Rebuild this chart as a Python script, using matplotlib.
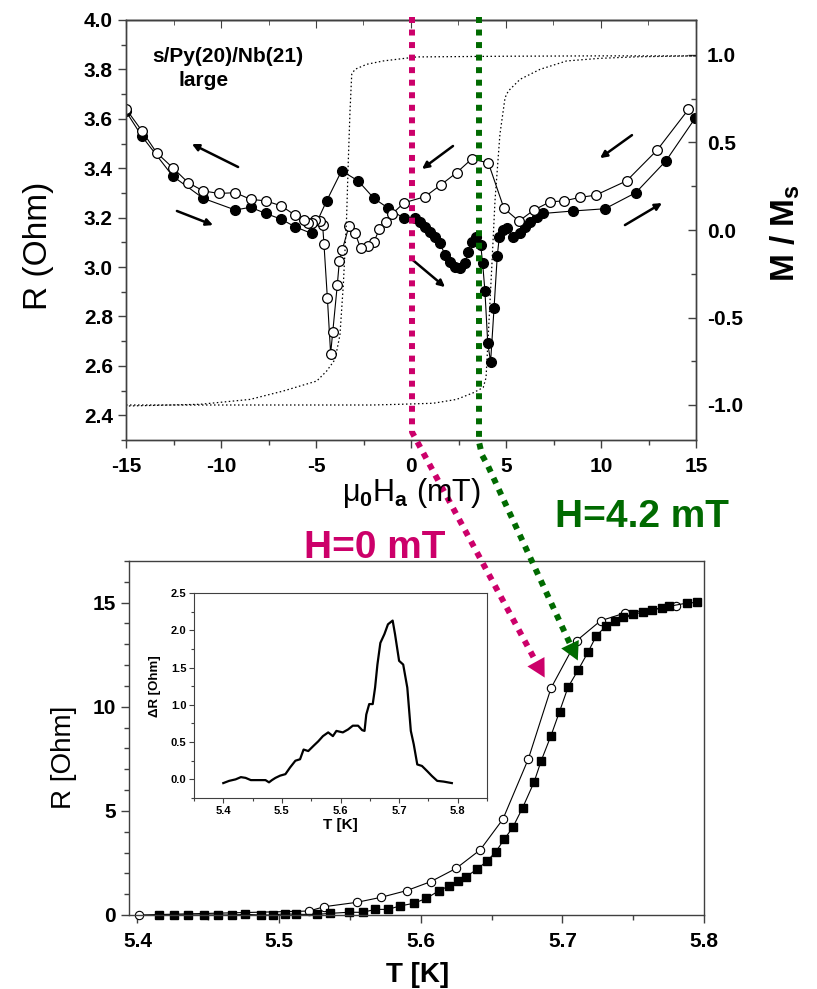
import matplotlib.pyplot as plt
from matplotlib.lines import Line2D
from matplotlib.patches import FancyArrowPatch
from matplotlib.ticker import MultipleLocator

plt.rcParams["font.family"] = ["Liberation Sans", "DejaVu Sans"]
plt.rcParams["font.weight"] = "bold"
plt.rcParams["mathtext.fontset"] = "custom"
plt.rcParams["mathtext.rm"] = "Liberation Sans"
plt.rcParams["mathtext.it"] = "Liberation Sans"
plt.rcParams["mathtext.bf"] = "Liberation Sans:bold"
plt.rcParams["axes.unicode_minus"] = False
plt.rcParams["axes.edgecolor"] = "#404040"
plt.rcParams["axes.linewidth"] = 1.0

# --- top panel: R(H) loops, filled = sweep up, open = sweep down
h_up = [-15.0, -14.17, -12.54, -10.93, -9.25, -8.44, -7.65, -6.84, -6.1, -5.23,
        -4.44, -3.65, -2.77, -1.95, -1.19, -0.37, 0.2, 0.47, 0.74, 1.0, 1.26,
        1.53, 1.79, 2.05, 2.32, 2.58, 2.84, 3.02, 3.19, 3.42, 3.67, 3.77, 3.89,
        4.04, 4.19, 4.37, 4.54, 4.65, 4.86, 5.04, 5.39, 5.74, 6.0, 6.26, 6.61,
        6.96, 8.54, 10.21, 11.83, 13.42, 14.95]
r_up = [3.63, 3.53, 3.368, 3.278, 3.231, 3.242, 3.217, 3.194, 3.163, 3.136,
        3.268, 3.39, 3.348, 3.278, 3.238, 3.197, 3.2, 3.183, 3.163, 3.143, 3.123,
        3.096, 3.049, 3.022, 3.001, 2.995, 3.015, 3.062, 3.102, 3.12, 3.089,
        3.015, 2.904, 2.691, 2.617, 2.833, 3.045, 3.123, 3.15, 3.157, 3.12,
        3.136, 3.163, 3.183, 3.204, 3.217, 3.227, 3.236, 3.301, 3.43, 3.602]

h_dn = [14.6, 12.96, 11.35, 9.72, 8.89, 8.07, 7.32, 6.47, 5.68, 4.89, 4.07,
        3.19, 2.4, 1.56, 0.74, -0.37, -1.02, -1.33, -1.67, -1.95, -2.26, -2.65,
        -2.95, -3.26, -3.62, -3.77, -3.88, -4.12, -4.23, -4.4, -4.58, -4.65,
        -4.8, -5.05, -5.2, -5.4, -5.65, -6.1, -6.84, -7.65, -8.44, -9.25,
        -10.1, -10.93, -11.72, -12.54, -13.39, -14.17, -14.98]
r_dn = [3.638, 3.474, 3.349, 3.291, 3.282, 3.268, 3.264, 3.231, 3.186, 3.238,
        3.422, 3.437, 3.382, 3.332, 3.285, 3.26, 3.213, 3.183, 3.153, 3.102,
        3.086, 3.076, 3.139, 3.167, 3.069, 3.024, 2.927, 2.736, 2.65, 2.873,
        3.092, 3.169, 3.185, 3.19, 3.18, 3.18, 3.19, 3.21, 3.248, 3.268, 3.274,
        3.301, 3.298, 3.308, 3.341, 3.402, 3.463, 3.552, 3.638]

# magnetisation loop (right axis)
hm_up = [-15, -11.1, -8, -5, -2, -0.58, 1.17, 2.4, 3.28, 3.8, 3.95, 4.07, 4.25,
         4.42, 4.68, 4.95, 5.12, 5.74, 6.79, 8.19, 9.95, 12, 15]
m_up = [-1.0, -1.0, -1.0, -1.0, -1.0, -0.996, -0.99, -0.968, -0.93, -0.9, -0.844,
        -0.596, -0.215, 0.166, 0.547, 0.756, 0.794, 0.861, 0.918, 0.966, 0.981,
        0.99, 0.995]
hm_dn = [15, 10, 5, 0.3, -1.46, -2.33, -2.95, -3.12, -3.21, -3.3, -3.39, -3.56,
         -3.74, -4.0, -4.44, -4.96, -6.72, -8.47, -11.1, -15]
m_dn = [0.995, 0.995, 0.993, 0.989, 0.966, 0.947, 0.918, 0.89, 0.68, 0.394, 0.07,
        -0.31, -0.6, -0.74, -0.806, -0.863, -0.92, -0.968, -0.996, -1.006]

# sweep direction arrows (tail, head) in data units
arrow_tails = [(-9.1, 3.405), (-12.32, 3.227), (2.21, 3.49), (0.1, 3.028),
               (11.63, 3.534), (11.26, 3.17)]
arrow_heads = [(-11.53, 3.498), (-10.42, 3.17), (0.58, 3.397), (1.79, 2.919),
               (9.95, 3.441), (13.21, 3.259)]

# --- bottom panel: R(T) at H=0 (open) and H=4.2 mT (squares)
t_open = [5.401, 5.521, 5.532, 5.555, 5.572, 5.590, 5.607, 5.625, 5.642, 5.658,
          5.676, 5.692, 5.710, 5.727, 5.744, 5.780]
r_open = [0.0, 0.19, 0.4, 0.61, 0.85, 1.17, 1.60, 2.24, 3.13, 4.6, 7.5, 10.9,
          13.17, 14.13, 14.5, 14.82]
t_sq = [5.415, 5.426, 5.436, 5.447, 5.457, 5.467, 5.476, 5.487, 5.496, 5.504,
        5.512, 5.527, 5.536, 5.549, 5.559, 5.568, 5.577, 5.585, 5.595, 5.604,
        5.613, 5.620, 5.626, 5.632, 5.640, 5.647, 5.653, 5.659, 5.665, 5.672,
        5.680, 5.685, 5.692, 5.698, 5.704, 5.711, 5.718, 5.724, 5.731, 5.737,
        5.743, 5.750, 5.757, 5.763, 5.770, 5.775, 5.788, 5.795]
r_sq = [0.0, 0.0, 0.0, 0.0, 0.0, 0.0, 0.03, 0.0, 0.0, 0.06, 0.03, 0.03, 0.08,
        0.13, 0.13, 0.27, 0.27, 0.43, 0.56, 0.8, 1.17, 1.4, 1.64, 1.84, 2.21,
        2.6, 3.04, 3.64, 4.21, 5.16, 6.38, 7.4, 8.62, 9.77, 10.94, 11.75, 12.61,
        13.41, 13.89, 14.13, 14.31, 14.46, 14.53, 14.66, 14.74, 14.82, 14.98,
        15.01]

# inset: difference of the two curves
t_in = [5.4, 5.410, 5.421, 5.430, 5.438, 5.447, 5.461, 5.472, 5.478, 5.483,
        5.489, 5.497, 5.506, 5.514, 5.523, 5.531, 5.537, 5.545, 5.554, 5.562,
        5.570, 5.579, 5.587, 5.593, 5.604, 5.613, 5.621, 5.630, 5.637, 5.641,
        5.644, 5.649, 5.655, 5.659, 5.663, 5.668, 5.675, 5.681, 5.689, 5.693,
        5.700, 5.707, 5.714, 5.720, 5.725, 5.731, 5.739, 5.748, 5.756, 5.765,
        5.776, 5.790]
dr_in = [-0.05, -0.02, 0.0, 0.03, 0.02, -0.01, -0.01, -0.01, -0.04, -0.01,
         0.02, 0.05, 0.07, 0.16, 0.25, 0.27, 0.40, 0.38, 0.45, 0.51, 0.58, 0.63,
         0.58, 0.65, 0.63, 0.67, 0.72, 0.72, 0.66, 0.65, 0.87, 1.01, 1.01, 1.23,
         1.54, 1.83, 1.95, 2.08, 2.13, 1.95, 1.59, 1.54, 1.23, 0.65, 0.47, 0.20,
         0.18, 0.11, 0.045, -0.02, -0.03, -0.05]

MAGENTA = "#cc006a"
GREEN = "#006a00"

W, H = 817, 989
fig = plt.figure(figsize=(W / 100, H / 100), dpi=100)


def box(l, t, r, b):
    return [l / W, 1 - b / H, (r - l) / W, (b - t) / H]


def fp(x, y):
    return x / W, 1 - y / H


# ---------------- top panel
ax1 = fig.add_axes(box(126, 20, 696, 440))
ax1.plot(h_up, r_up, "-o", color="k", lw=0.8, ms=7, mfc="k", mec="k")
ax1.plot(h_dn, r_dn, "-o", color="k", lw=0.8, ms=7, mfc="white", mec="k", mew=0.9)
for tail, head in zip(arrow_tails, arrow_heads):
    ax1.annotate("", xy=head, xytext=tail,
                 arrowprops=dict(arrowstyle="-|>", color="k", lw=1.8,
                                 mutation_scale=10, shrinkA=0, shrinkB=0))
ax1.set_xlim(-15, 15)
ax1.set_ylim(2.3, 4.0)
ax1.xaxis.set_major_locator(MultipleLocator(5))
ax1.xaxis.set_minor_locator(MultipleLocator(2.5))
ax1.yaxis.set_major_locator(MultipleLocator(0.2))
ax1.yaxis.set_minor_locator(MultipleLocator(0.1))
ax1.tick_params(which="both", direction="out", labelsize=15, width=1,
                color="#404040", top=False, right=False)
ax1.tick_params(which="major", length=6)
ax1.tick_params(which="minor", length=3.5)
ax1.tick_params(axis="x", pad=6)

secx = ax1.secondary_xaxis("top")
secx.xaxis.set_major_locator(MultipleLocator(5))
secx.xaxis.set_minor_locator(MultipleLocator(2.5))
secx.tick_params(which="both", direction="in", labeltop=False, color="#404040")
secx.tick_params(which="major", length=6)
secx.tick_params(which="minor", length=3.5)

ax1r = ax1.twinx()
ax1r.plot(hm_up, m_up, color="k", lw=0.9, ls=(0, (1.2, 2)))
ax1r.plot(hm_dn, m_dn, color="k", lw=0.9, ls=(0, (1.2, 2)))
ax1r.set_ylim(-1.2, 1.2)
ax1r.yaxis.set_major_locator(MultipleLocator(0.5))
ax1r.yaxis.set_minor_locator(MultipleLocator(0.25))
ax1r.tick_params(which="both", direction="in", labelsize=15, width=1,
                 color="#404040", pad=8)
ax1r.tick_params(which="major", length=6)
ax1r.tick_params(which="minor", length=3.5)

fig.text(*fp(38, 246), "R (Ohm)", rotation=90, ha="center", va="center",
         fontsize=24, fontweight="normal")
fig.text(*fp(785, 233), r"M / M$_\mathbf{s}$", rotation=90, ha="center",
         va="center", fontsize=24, fontweight="bold")
fig.text(*fp(411, 493), r"μ$_0$H$_a$ (mT)", ha="center", va="center",
         fontsize=22, fontweight="normal")
fig.text(*fp(228, 57), "s/Py(20)/Nb(21)", ha="center", va="center", fontsize=15)
fig.text(*fp(204, 81), "large", ha="center", va="center", fontsize=15)

# ---------------- bottom panel
ax2 = fig.add_axes(box(129, 561, 704, 915))
ax2.plot(t_open, r_open, "-o", color="k", lw=0.8, ms=6, mfc="white", mec="k",
         mew=0.8, clip_on=False)
ax2.plot(t_sq, r_sq, "-s", color="k", lw=0.8, ms=5.5, clip_on=False)
ax2.set_xlim(5.394, 5.8)
ax2.set_ylim(0, 17)
ax2.xaxis.set_major_locator(MultipleLocator(0.1))
ax2.xaxis.set_minor_locator(MultipleLocator(0.05))
ax2.yaxis.set_major_locator(MultipleLocator(5))
ax2.yaxis.set_minor_locator(MultipleLocator(1))
ax2.tick_params(which="both", direction="out", labelsize=15, width=1,
                color="#404040")
ax2.tick_params(which="major", length=6)
ax2.tick_params(which="minor", length=3.5)
ax2.tick_params(axis="x", pad=6)

fig.text(*fp(64, 757), "R [Ohm]", rotation=90, ha="center", va="center",
         fontsize=20, fontweight="normal")
fig.text(*fp(418, 975), "T [K]", ha="center", va="center", fontsize=20,
         fontweight="bold")

# inset
ax3 = fig.add_axes(box(194, 593, 487, 798))
ax3.plot(t_in, dr_in, color="k", lw=1.6)
ax3.set_xlim(5.35, 5.85)
ax3.set_ylim(-0.25, 2.5)
ax3.xaxis.set_major_locator(MultipleLocator(0.1))
ax3.xaxis.set_minor_locator(MultipleLocator(0.05))
ax3.yaxis.set_major_locator(MultipleLocator(0.5))
ax3.yaxis.set_minor_locator(MultipleLocator(0.25))
ax3.tick_params(which="both", direction="out", labelsize=8, width=0.8,
                color="#404040", pad=2)
ax3.tick_params(which="major", length=3.5)
ax3.tick_params(which="minor", length=2)
for sp in ax3.spines.values():
    sp.set_linewidth(0.8)
fig.text(*fp(155, 686), "ΔR [Ohm]", rotation=90, ha="center", va="center",
         fontsize=9.5, fontweight="bold")
fig.text(*fp(340, 825), "T [K]", ha="center", va="center", fontsize=11,
         fontweight="bold")

# ---------------- field markers linking both panels
fig.text(*fp(642, 517), "H=4.2 mT", ha="center", va="center", fontsize=28,
         fontweight="bold", color=GREEN)
fig.text(*fp(375, 548), "H=0 mT", ha="center", va="center", fontsize=28,
         fontweight="bold", color=MAGENTA)

links = [
    (MAGENTA, [(412, 17), (412, 432), (535, 660)], (530, 651), (546, 680)),
    (GREEN, [(479, 17), (479, 442), (482, 455), (488, 466), (571, 646)],
     (568, 640), (579, 663)),
]
for color, path, base, tip in links:
    xs = [fp(x, y)[0] for x, y in path]
    ys = [fp(x, y)[1] for x, y in path]
    fig.add_artist(Line2D(xs, ys, transform=fig.transFigure, color=color,
                          lw=4.3, ls=(0, (1, 1.1)), dash_capstyle="butt"))
    fig.add_artist(FancyArrowPatch(fp(*base), fp(*tip),
                                   arrowstyle="-|>,head_length=0.65,head_width=0.35",
                                   mutation_scale=20, color=color, lw=0,
                                   transform=fig.transFigure))

fig.savefig("out.png", dpi=100)
